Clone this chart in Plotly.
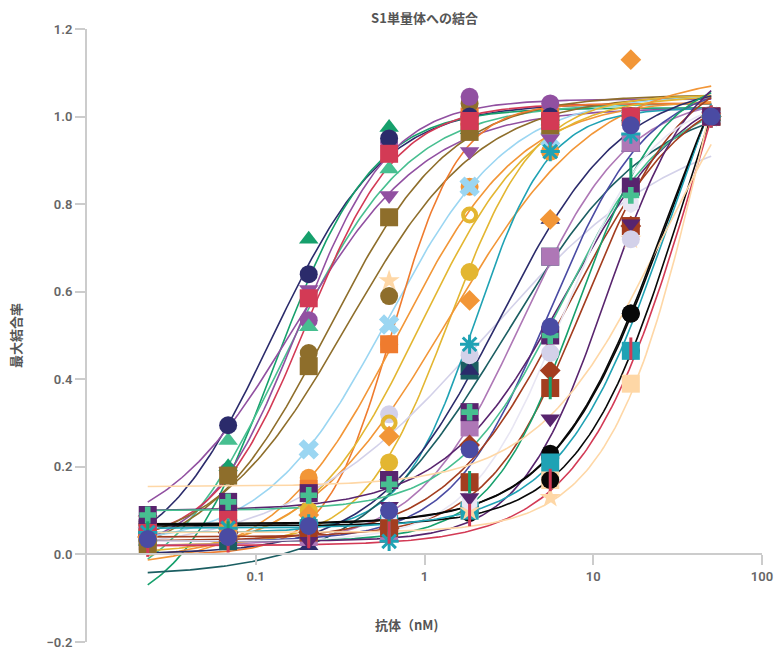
import numpy as np
import plotly.graph_objects as go

# Antibody concentrations (nM), 3-fold dilution series
conc = [0.0229, 0.0686, 0.206, 0.617, 1.85, 5.56, 16.7, 50]

# Fraction of maximal binding per antibody
ab01 = [0.07, 0.295, 0.64, 0.95, 1.00, 1.00, 1.00, 1.0]
ab02 = [0.03, 0.20, 0.72, 0.975, 0.97, 1.00, 1.00, 1.0]
ab03 = [0.04, 0.26, 0.52, 0.88, 0.97, 0.99, 1.00, 1.0]
ab04 = [0.06, 0.19, 0.535, 0.94, 1.045, 1.03, 1.00, 1.0]
ab05 = [0.08, 0.19, 0.605, 0.82, 0.92, 0.95, 1.00, 1.0]
ab06 = [0.06, 0.09, 0.585, 0.915, 0.99, 0.99, 1.00, 1.0]
ab07 = [0.02, 0.18, 0.43, 0.77, 0.965, 0.98, 1.00, 1.0]
ab08 = [0.04, 0.10, 0.46, 0.59, 1.03, 1.00, 1.00, 1.0]
ab09 = [0.05, 0.09, 0.24, 0.525, 0.84, 0.95, 1.00, 1.0]
ab10 = [0.05, 0.08, 0.15, 0.48, 1.00, 1.00, 1.00, 1.0]
ab11 = [0.03, 0.06, 0.175, 0.48, 0.84, 0.92, 1.00, 1.0]
ab12 = [0.03, 0.05, 0.10, 0.30, 0.775, 0.92, 1.00, 1.0]
ab13 = [0.03, 0.06, 0.10, 0.21, 0.645, 0.92, 1.00, 1.0]
ab14 = [0.04, 0.06, 0.09, 0.27, 0.58, 0.765, 1.13, 1.0]
ab15 = [0.04, 0.05, 0.135, 0.32, 0.455, 0.46, 0.72, 1.0]
ab16 = [0.05, 0.06, 0.07, 0.03, 0.48, 0.92, 0.96, 1.0]
ab17 = [0.04, 0.04, 0.02, 0.18, 0.42, 0.765, 0.93, 1.0]
ab18 = [0.04, 0.03, 0.05, 0.17, 0.42, 0.68, 0.94, 1.0]
ab19 = [0.03, 0.05, 0.04, 0.05, 0.29, 0.68, 0.94, 1.0]
ab20 = [0.035, 0.04, 0.065, 0.10, 0.24, 0.52, 0.98, 1.0]
ab21 = [0.09, 0.12, 0.14, 0.17, 0.325, 0.50, 0.84, 1.0]
ab22 = [0.09, 0.12, 0.135, 0.16, 0.325, 0.50, 0.82, 1.0]
ab23 = [0.04, 0.05, 0.05, 0.06, 0.25, 0.42, 0.75, 1.0]
ab24 = [0.05, 0.05, 0.05, 0.06, 0.165, 0.38, 0.75, 1.0]
ab25 = [0.05, 0.05, 0.05, 0.06, 0.165, 0.38, 0.88, 1.0]
ab26 = [0.04, 0.04, 0.03, 0.11, 0.13, 0.31, 0.755, 1.0]
ab27 = [0.03, 0.04, 0.05, 0.08, 0.12, 0.46, 0.80, 1.0]
ab28 = [0.07, 0.065, 0.065, 0.08, 0.10, 0.23, 0.55, 1.0]
ab29 = [0.065, 0.065, 0.07, 0.075, 0.095, 0.17, 0.465, 1.0]
ab30 = [0.06, 0.06, 0.06, 0.07, 0.10, 0.21, 0.465, 1.0]
ab31 = [0.02, 0.03, 0.04, 0.05, 0.09, 0.17, 0.47, 1.0]
ab32 = [0.05, 0.05, 0.06, 0.07, 0.10, 0.17, 0.39, 1.0]
ab33 = [0.08, 0.10, 0.10, 0.625, 0.10, 0.13, 0.72, 1.0]
ab34 = [0.075, 0.07, 0.07, 0.08, 0.11, 0.22, 0.55, 1.0]

binding = [ab01, ab02, ab03, ab04, ab05, ab06, ab07, ab08, ab09, ab10, ab11, ab12,
           ab13, ab14, ab15, ab16, ab17, ab18, ab19, ab20, ab21, ab22, ab23, ab24,
           ab25, ab26, ab27, ab28, ab29, ab30, ab31, ab32, ab33, ab34]
names = ["Ab%02d" % (i + 1) for i in range(len(binding))]

# 4-parameter logistic fit parameters
fit_bottom = [-0.04, -0.15, -0.12, 0.0, 0.02, 0.02, -0.02, 0.0, 0.02, 0.0, -0.03, 0.0,
              0.02, -0.02, 0.0, 0.05, 0.0, -0.05, 0.02, 0.03, 0.10, 0.10, 0.03, 0.04,
              0.03, 0.03, 0.03, 0.068, 0.065, 0.06, 0.02, 0.05, 0.155, 0.07]
fit_top = [1.03, 1.02, 1.03, 1.04, 1.02, 1.03, 1.05, 1.05, 1.05, 1.03, 1.04, 1.05,
           1.05, 1.10, 1.00, 1.02, 1.08, 1.05, 1.05, 1.08, 1.10, 1.05, 1.10, 1.12,
           1.10, 1.15, 1.05, 1.50, 1.60, 1.55, 1.85, 2.00, 1.30, 1.45]
fit_ec50 = [0.125, 0.13, 0.15, 0.18, 0.17, 0.20, 0.27, 0.35, 0.60, 0.65, 0.70, 0.95,
            1.40, 1.40, 2.30, 2.00, 2.80, 3.00, 3.80, 5.50, 7.00, 6.50, 7.00, 9.00,
            8.00, 12.0, 6.50, 29.0, 36.0, 31.0, 45.0, 50.0, 26.0, 27.0]
fit_hill = [1.3, 1.5, 1.2, 1.6, 1.1, 1.6, 1.2, 1.1, 1.2, 2.2, 1.2, 1.3,
            1.7, 1.0, 0.75, 2.0, 1.2, 1.0, 1.4, 1.5, 1.2, 1.4, 1.2, 1.5,
            1.7, 1.7, 1.6, 1.27, 1.39, 1.3, 1.25, 1.5, 1.17, 1.3]

# Styles
colors = ["#2b2b6b", "#16a06c", "#47bf90", "#9150a1", "#9150a1", "#d33a55", "#8e6e2b", "#8e6e2b",
          "#9bd6f2", "#ef7b2e", "#f29637", "#e3b631", "#e3b631", "#f29637", "#d3d1e9", "#1fa2b4",
          "#2b2b6b", "#1b5e62", "#ae77b6", "#4a4ba3", "#58246e", "#47bf90", "#a33d1f", "#a33d1f",
          "#16a06c", "#58246e", "#e8e6f3", "#080808", "#080808", "#1fa2b4", "#d33a55", "#fed7a6",
          "#fed7a6", "#080808"]
symbols = ["circle", "triangle-up", "triangle-up", "circle", "triangle-down", "square", "square", "circle",
           "x", "square", "circle", "circle-open", "circle", "diamond", "circle", "asterisk-open",
           "triangle-up", "square", "square", "circle", "square", "cross", "diamond", "square",
           "line-ns-open", "triangle-down", "hexagon", "circle", "circle", "square", "line-ns-open", "square",
           "star", "circle"]
line_only = {"asterisk-open", "line-ns-open"}

# order in which the marker layers are stacked (first = bottom)
marker_order = [27, 31, 28, 33, 29, 17, 32, 16, 18, 26, 22, 23, 25, 14, 12, 11, 10, 9, 8,
                7, 4, 3, 2, 1, 0, 6, 5, 13, 15, 20, 21, 24, 30, 19]

fig = go.Figure()

xfit = np.logspace(np.log10(conc[0]), np.log10(conc[-1]), 200)
for i in range(len(binding)):
    b, t, c, h = fit_bottom[i], fit_top[i], fit_ec50[i], fit_hill[i]
    yfit = b + (t - b) / (1 + (c / xfit) ** h)
    fig.add_trace(go.Scatter(x=xfit, y=yfit, mode="lines", name=names[i], showlegend=False,
                             line=dict(color=colors[i], width=1.6), hoverinfo="skip"))

for i in marker_order:
    sym = symbols[i]
    if sym in line_only:
        marker = dict(symbol=sym, size=16, color=colors[i], line=dict(color=colors[i], width=3))
    elif sym == "circle-open":
        marker = dict(symbol=sym, size=13, color=colors[i], line=dict(color=colors[i], width=4))
    else:
        size = 18
        if sym in ("triangle-up", "triangle-down"):
            size = 17
        elif sym in ("diamond", "star"):
            size = 16
        elif sym == "cross":
            size = 14
        marker = dict(symbol=sym, size=size, color=colors[i], line=dict(width=0))
    fig.add_trace(go.Scatter(x=conc, y=binding[i], mode="markers", name=names[i],
                             showlegend=False, marker=marker))

axis_gray = "#cccccc"
text_gray = "#666666"
fig.update_layout(
    width=775, height=650,
    margin=dict(l=87, r=13, t=29, b=8),
    paper_bgcolor="white", plot_bgcolor="white",
    font=dict(family="Noto Sans CJK JP, Roboto, sans-serif", color=text_gray),
    title=dict(text="S1単量体への結合", x=0.5, xref="paper", y=1 - 18 / 650, yref="container",
               yanchor="middle", xanchor="center",
               font=dict(size=13, color="#555555", weight="bold")),
    xaxis=dict(type="log", range=[-2, 2], anchor="free", position=0.2 / 1.4,
               automargin=False, ticklabeloverflow="allow",
               showline=True, linecolor=axis_gray, linewidth=2,
               ticks="outside", ticklen=10, tickcolor=axis_gray, tickwidth=1.5,
               tickvals=[0.1, 1, 10, 100], ticktext=["0.1", "1", "10", "100"],
               tickfont=dict(size=13, color=text_gray, family="Roboto", weight=600),
               showgrid=False, zeroline=False),
    yaxis=dict(range=[-0.2, 1.2], dtick=0.2, tickformat=".1f", automargin=False,
               showline=True, linecolor=axis_gray, linewidth=2,
               ticks="outside", ticklen=10, tickcolor=axis_gray, tickwidth=1.5,
               tickfont=dict(size=13, color=text_gray, family="Roboto", weight=600),
               showgrid=False, zeroline=False,
               title=dict(text="最大結合率", standoff=22,
                          font=dict(size=13, color="#555555", weight="bold"))),
    annotations=[dict(text="抗体（nM)", xref="paper", yref="paper",
                      x=(406 - 87) / (762 - 87), y=(642 - 624) / (642 - 29),
                      xanchor="center", yanchor="middle", showarrow=False,
                      font=dict(size=13, color="#555555", weight="bold"))],
)

fig.write_html("out.html", config={"displayModeBar": False},
               post_script="document.body.style.margin='0';document.body.style.overflow='hidden';")
